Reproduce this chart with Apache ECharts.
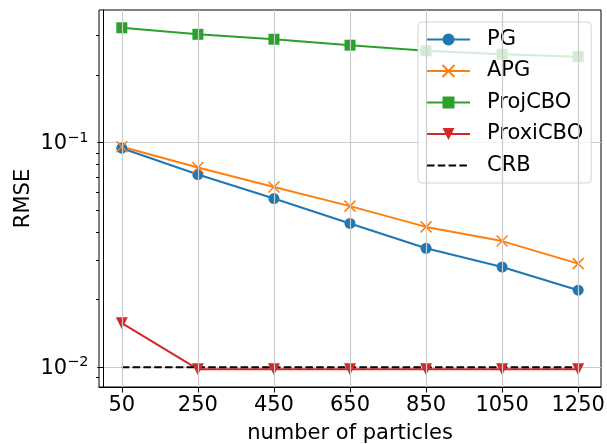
<!DOCTYPE html>
<html><head><meta charset="utf-8">
<script src="https://cdn.jsdelivr.net/npm/echarts@6/dist/echarts.min.js"></script>
<style>html,body{margin:0;padding:0;background:#fff}#c{width:607px;height:444px}</style>
</head><body><div id="c"></div>
<script>
const particles = [50, 250, 450, 650, 850, 1050, 1250];
const pg       = [0.0943, 0.0720, 0.0563, 0.0436, 0.0338, 0.0279, 0.0220];
const apg      = [0.0958, 0.0774, 0.0634, 0.0521, 0.0421, 0.0364, 0.0289];
const projCBO  = [0.324, 0.303, 0.288, 0.271, 0.256, 0.247, 0.241];
const proxiCBO = [0.0157, 0.0098, 0.0098, 0.0098, 0.0098, 0.0098, 0.0098];
const crb      = [0.01, 0.01, 0.01, 0.01, 0.01, 0.01, 0.01];
const xTickLabels = [50, 250, 450, 650, 850, 1050, 1250];
const yMajorTicks = [0.01, 0.1];
const yMinorTicks = [0.009, 0.02, 0.03, 0.04, 0.05, 0.06, 0.07, 0.08, 0.09, 0.2, 0.3];

const FONT = 'DejaVu Sans';
const FS = 21;
const pairs = arr => particles.map((x, i) => [x, arr[i]]);
const yMin = 0.00816, yMax = 0.3887;
const GRID = '#cbcbcb';

const chart = echarts.init(document.getElementById('c'), null, {renderer: 'canvas'});
chart.setOption({
  animation: false,
  backgroundColor: '#fff',
  grid: {left: 99, right: 6, top: 10, bottom: 57, show: true, borderColor: '#000', borderWidth: 1,
         backgroundColor: 'transparent', containLabel: false, outerBoundsMode: 'none'},
  xAxis: {
    type: 'value', min: -10, max: 1310,
    name: 'number of particles', nameLocation: 'middle', nameGap: 36, nameMoveOverlap: false,
    nameTextStyle: {fontFamily: FONT, fontSize: FS, color: '#000'},
    axisLine: {show: true, lineStyle: {color: '#000', width: 1}},
    axisTick: {show: true, customValues: xTickLabels, length: 5.5, lineStyle: {color: '#000', width: 1}},
    axisLabel: {customValues: xTickLabels, margin: 8.5, formatter: v => String(v),
                fontFamily: FONT, fontSize: FS, color: '#000'},
    splitLine: {show: false}
  },
  yAxis: [{
    type: 'log', min: yMin, max: yMax,
    name: 'RMSE', nameLocation: 'middle', nameGap: 65, nameMoveOverlap: false,
    nameTextStyle: {fontFamily: FONT, fontSize: FS, color: '#000'},
    axisLine: {show: true, lineStyle: {color: '#000', width: 1}},
    axisTick: {show: true, customValues: yMajorTicks, length: 5.5, lineStyle: {color: '#000', width: 1}},
    axisLabel: {
      customValues: yMajorTicks, margin: 10.5,
      formatter: v => v > 0.05 ? '{b|10}{s|−1}' : '{b|10}{s|−2}',
      rich: {
        b: {fontFamily: FONT, fontSize: FS, color: '#000', verticalAlign: 'bottom'},
        s: {fontFamily: FONT, fontSize: 14.5, color: '#000', verticalAlign: 'bottom', padding: [0, 0, 9, 0]}
      }
    },
    splitLine: {show: true, lineStyle: {color: GRID, width: 1.2}}
  }, {
    type: 'log', min: yMin, max: yMax, position: 'left',
    axisLine: {show: false},
    axisTick: {show: true, customValues: yMinorTicks, length: 3, lineStyle: {color: '#000', width: 1}},
    axisLabel: {show: false},
    splitLine: {show: false}
  }],
  legend: {
    orient: 'vertical', left: 418, top: 22,
    data: ['PG', 'APG', 'ProjCBO', 'ProxiCBO', {name: 'CRB', itemStyle: {opacity: 0}}],
    itemWidth: 43, itemHeight: 15, itemGap: 10.5,
    padding: [7, 8, 7, 8],
    backgroundColor: 'rgba(255,255,255,0.8)', borderColor: '#d4d4d4', borderWidth: 1, borderRadius: 4,
    textStyle: {fontFamily: FONT, fontSize: FS, color: '#000', padding: [0, 0, 0, 12]}
  },
  series: [
    {name: 'grid', type: 'line', data: [], z: 1, silent: true,
     markLine: {silent: true, symbol: 'none', label: {show: false}, animation: false,
       lineStyle: {color: GRID, width: 1.2, type: 'solid'},
       data: xTickLabels.map(v => ({xAxis: v}))}},
    {name: 'PG', type: 'line', data: pairs(pg), symbol: 'circle', symbolSize: 11,
     lineStyle: {color: '#1f77b4', width: 2}, itemStyle: {color: '#1f77b4'}},
    {name: 'APG', type: 'line', data: pairs(apg), symbol: 'path://M0,0L10,10M10,0L0,10', symbolSize: 11,
     lineStyle: {color: '#ff7f0e', width: 2}, itemStyle: {color: '#ff7f0e', borderColor: '#ff7f0e', borderWidth: 1.5}},
    {name: 'ProjCBO', type: 'line', data: pairs(projCBO), symbol: 'rect', symbolSize: 11,
     lineStyle: {color: '#2ca02c', width: 2}, itemStyle: {color: '#2ca02c'}},
    {name: 'ProxiCBO', type: 'line', data: pairs(proxiCBO), symbol: 'triangle', symbolRotate: 180, symbolSize: 12,
     lineStyle: {color: '#d62728', width: 2}, itemStyle: {color: '#d62728'}},
    {name: 'CRB', type: 'line', data: pairs(crb), symbol: 'none',
     lineStyle: {color: '#000', width: 2, type: [7.5, 3.3]}, itemStyle: {color: '#000'}}
  ]
});
</script></body></html>
